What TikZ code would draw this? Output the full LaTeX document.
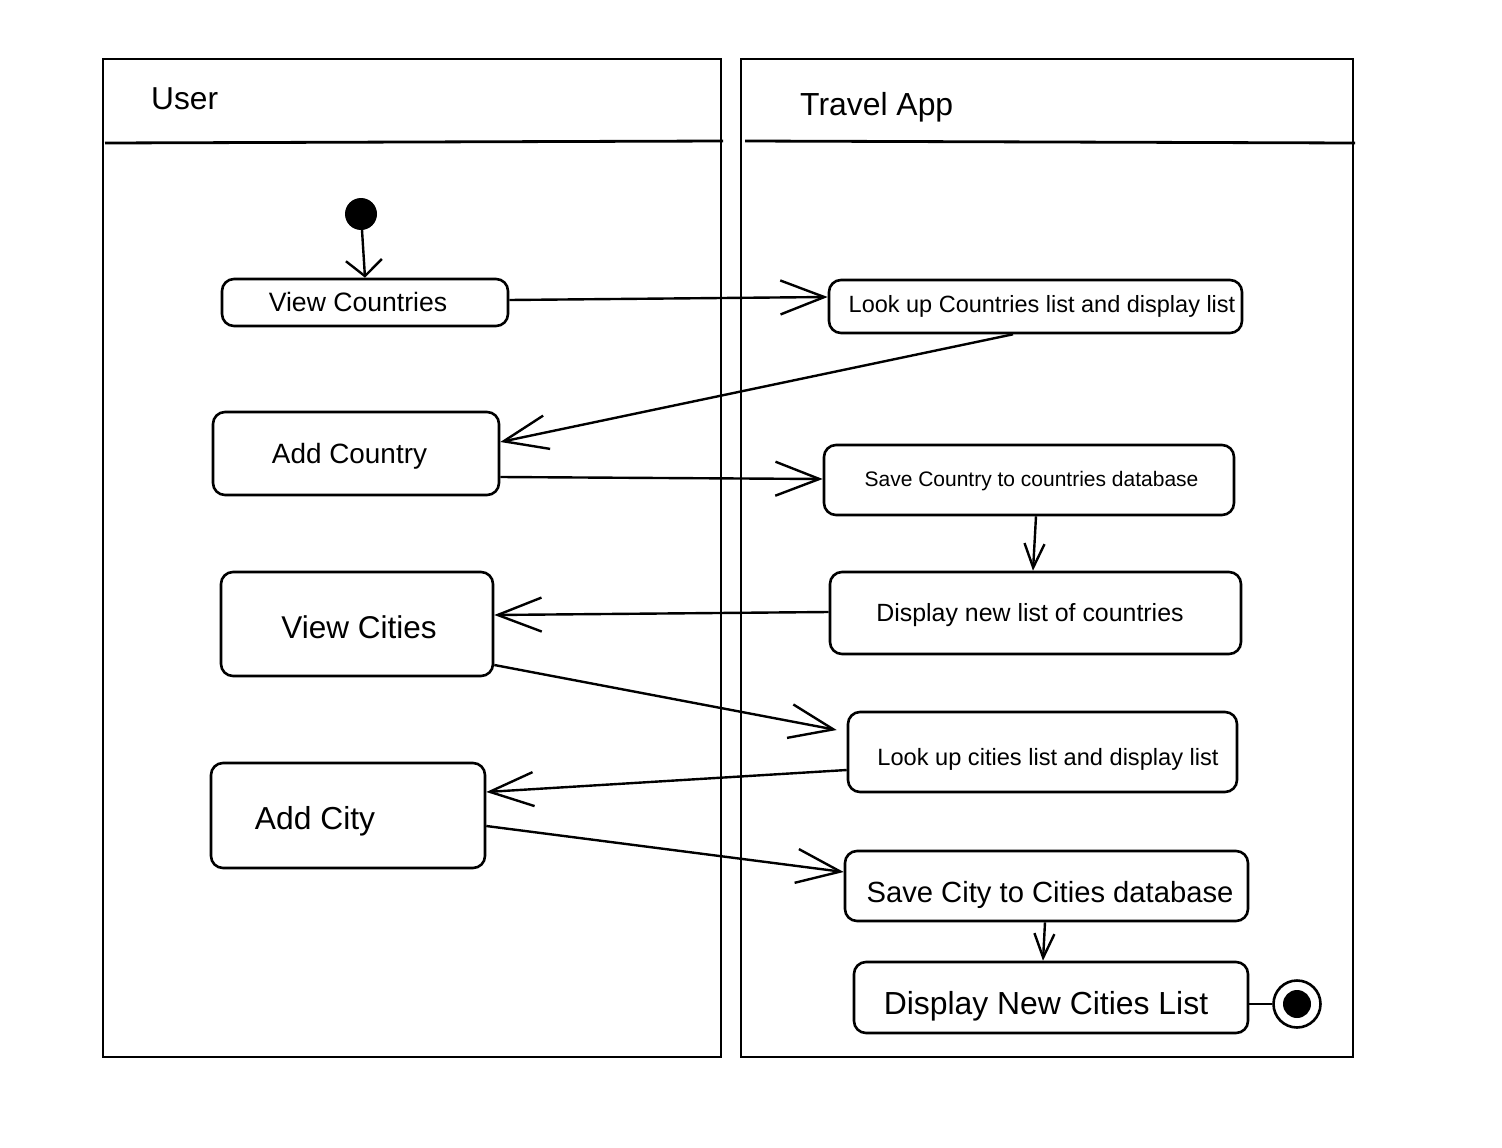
\documentclass[tikz,border=0pt]{standalone}
\usepackage{fontspec}
\setmainfont{Liberation Sans}
\usetikzlibrary{arrows.meta}
\newcommand{\fsz}[1]{\fontsize{#1}{#1}\selectfont}

\begin{document}
\begin{tikzpicture}[x=1pt, y=-1pt,
  lane/.style={line width=2.8pt},
  act/.style={draw, line width=2.6pt, rounded corners=12pt, inner sep=0pt},
  flow/.style={line width=2.4pt, -{Straight Barb[length=44pt, width=34pt]}},
  drop/.style={line width=2.4pt, -{Straight Barb[length=24pt, width=20pt]}}]
\useasboundingbox (0, 0) rectangle (1502, 1148);

\draw[lane] (103, 59) rectangle (721, 1057);
\draw[lane] (105, 143) -- (723, 141);
\draw[lane] (741, 59) rectangle (1353, 1057);
\draw[lane] (745, 141) -- (1355, 143);

\node[anchor=west, inner sep=0pt, font=\fsz{31.7}] (user) at (151, 99) {User};
\node[anchor=west, inner sep=0pt, font=\fsz{31.9}] (app) at (800, 107) {Travel App};

\node[circle, fill, minimum size=32pt, inner sep=0pt] (start) at (361, 214) {};

% user lane
\node[act, minimum width=286pt, minimum height=47pt,
  label={[font=\fsz{26.6}, xshift=-7pt, yshift=1pt]center:View Countries}] (vc) at (365, 302.5) {};
\node[act, minimum width=286pt, minimum height=83pt,
  label={[font=\fsz{27.9}, xshift=-6.5pt, yshift=-3pt]center:Add Country}] (ac) at (356, 453.5) {};
\node[act, minimum width=272pt, minimum height=104pt,
  label={[font=\fsz{31.5}, xshift=2pt, yshift=-3pt]center:View Cities}] (vci) at (357, 624) {};
\node[act, minimum width=274pt, minimum height=105pt,
  label={[font=\fsz{31.8}, xshift=-33pt, yshift=-6pt]center:Add City}] (aci) at (348, 815.5) {};

% app lane
\node[act, minimum width=413pt, minimum height=53pt,
  label={[font=\fsz{23.5}, xshift=6.5pt]center:Look up Countries list and display list}] (lc) at (1035.5, 306.5) {};
\node[act, minimum width=410pt, minimum height=70pt,
  label={[font=\fsz{21}, xshift=2.5pt, yshift=-1pt]center:Save Country to countries database}] (sc) at (1029, 480) {};
\node[act, minimum width=411pt, minimum height=82pt,
  label={[font=\fsz{24.9}, xshift=-5.5pt, yshift=-2pt]center:Display new list of countries}] (dn) at (1035.5, 613) {};
\node[act, minimum width=389pt, minimum height=80pt,
  label={[font=\fsz{23.6}, xshift=5.5pt, yshift=-7pt]center:Look up cities list and display list}] (lci) at (1042.5, 752) {};
\node[act, minimum width=403pt, minimum height=70pt,
  label={[font=\fsz{29.2}, xshift=3.5pt, yshift=-9pt]center:Save City to Cities database}] (scc) at (1046.5, 886) {};
\node[act, minimum width=394pt, minimum height=71pt,
  label={[font=\fsz{31.9}, xshift=-5pt, yshift=-9pt]center:Display New Cities List}] (dnc) at (1051, 997.5) {};

\node[circle, draw, line width=2.6pt, minimum size=47pt, inner sep=0pt,
  path picture={\fill (path picture bounding box.center) circle (14pt);}] (fin) at (1297, 1004) {};

\draw[line width=2.4pt, -{Straight Barb[length=16pt, width=36pt]}] (start) -- (vc.north);
\draw[flow] ([yshift=2.5pt]vc.east) -- ([yshift=9.5pt]lc.west);
\draw[flow] ([xshift=-22.5pt]lc.south) -- ([yshift=11.5pt]ac.east);
\draw[flow] ([yshift=-23.5pt]ac.east) -- ([yshift=1pt]sc.west);
\draw[drop] ([xshift=7pt]sc.south) -- ([xshift=-2.5pt]dn.north);
\draw[flow] ([yshift=1pt]dn.west) -- ([yshift=9pt]vci.east);
\draw[flow] ([yshift=-41pt]vci.east) -- ([xshift=-10pt, yshift=22pt]lci.west);
\draw[flow] ([yshift=-18pt]lci.west) -- ([yshift=23.5pt]aci.east);
\draw[flow] ([yshift=-10.5pt]aci.east) -- ([yshift=14pt]scc.west);
\draw[drop] ([xshift=-1.5pt]scc.south) -- ([xshift=-8pt]dnc.north);
\draw[line width=2.4pt] ([yshift=-6.5pt]dnc.east) -- (fin);
\end{tikzpicture}
\end{document}
